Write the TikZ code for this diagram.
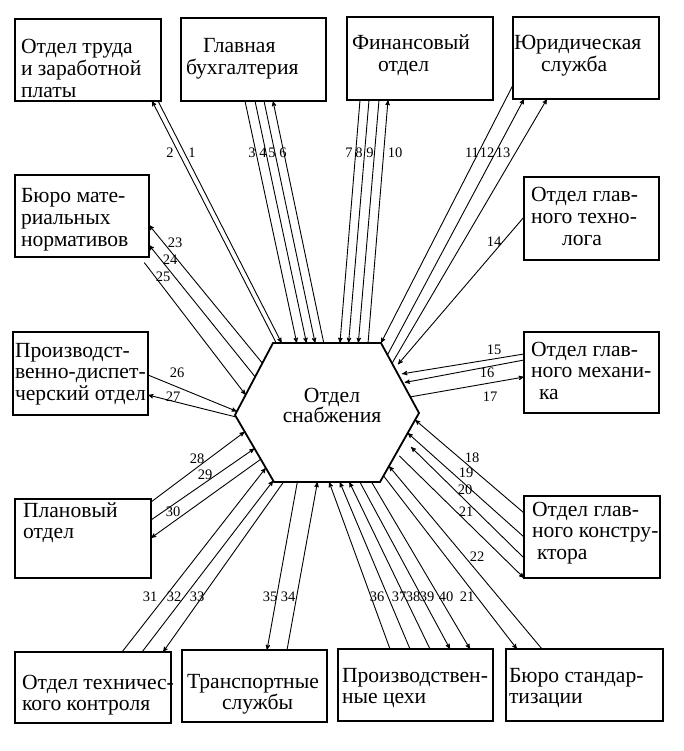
\documentclass[tikz,border=0pt]{standalone}
\usepackage{fontspec}
\setmainfont{Liberation Serif}
\usepackage{tikz}
\usetikzlibrary{arrows,calc}
\newcommand{\btxt}[3]{\makebox[#1pt][l]{\hspace*{#2pt}\begin{tabular}[t]{@{}l@{}}#3\end{tabular}}}

\begin{document}
\begin{tikzpicture}[x=1pt, y=-1pt, >=stealth', font=\fontsize{21.6}{21.6}\selectfont]
\tikzstyle{box}=[draw, line width=1.5pt, anchor=north west, inner sep=0pt, outer sep=0pt]
\tikzstyle{num}=[font=\fontsize{14.5}{14.5}\selectfont, inner sep=0pt]
\tikzstyle{con}=[->, line width=0.9pt]
\useasboundingbox (0,0) rectangle (684,751);

% supply department
\coordinate (hnw) at (273,343);
\coordinate (hne) at (381,343);
\coordinate (he)  at (419,413);
\coordinate (hse) at (380,482);
\coordinate (hsw) at (274,482);
\coordinate (hw)  at (235,415);
\draw[line width=1.8pt, line join=miter] (hnw) -- (hne) -- (he) -- (hse) -- (hsw) -- (hw) -- cycle;
\node[align=center, font=\fontsize{21.6}{20}\selectfont] (sup) at (332,405) {Отдел\\снабжения};

% departments
\node[box, text height=35pt, text depth=47pt] (trud) at (15,19) {\btxt{146}{6}{Отдел труда\\и заработной\\платы}};
\node[box, text height=35pt, text depth=48pt] (buh) at (181,18) {\btxt{145}{5}{\hspace*{17pt}Главная\\бухгалтерия}};
\node[box, text height=33pt, text depth=50pt] (fin) at (347,17) {\btxt{146}{5}{Финансовый\\\hspace*{26pt}отдел}};
\node[box, text height=33pt, text depth=49pt] (yur) at (513,17) {\btxt{146}{1}{Юридическая\\\hspace*{27pt}служба}};
\node[box, text height=25pt, text depth=58pt] (tech) at (524,177) {\btxt{135}{7}{Отдел глав-\\ного техно-\\\hspace*{31pt}лога}};
\node[box, text height=24pt, text depth=57pt] (mech) at (524,332) {\btxt{135}{7}{Отдел глав-\\ного механи-\\\hspace*{8pt}ка}};
\node[box, text height=20pt, text depth=62pt] (kon) at (524,496) {\btxt{136}{8}{Отдел глав-\\ного констру-\\\hspace*{5pt}ктора}};
\node[box, text height=33pt, text depth=39pt] (std) at (506,649) {\btxt{157}{3}{Бюро стандар-\\тизации}};
\node[box, text height=33pt, text depth=39pt] (cekh) at (338,649) {\btxt{155}{4}{Производствен-\\ные цехи}};
\node[box, text height=38pt, text depth=34pt] (trans) at (182,650) {\btxt{145}{5}{Транспортные\\\hspace*{35pt}службы}};
\node[box, text height=37pt, text depth=34pt] (otk) at (15,652) {\btxt{156}{7}{Отдел техничес-\\кого контроля}};
\node[box, text height=18pt, text depth=61pt] (plan) at (15,499) {\btxt{136}{8}{Плановый\\отдел}};
\node[box, text height=25pt, text depth=58pt] (pdo) at (13,332) {\btxt{135}{2}{Производст-\\венно-диспет-\\черский отдел}};
\node[box, text height=28pt, text depth=54pt] (bmn) at (15,175) {\btxt{134}{6}{Бюро мате-\\риальных\\нормативов}};

\path[con]
($(trud.south west)+(143,0)$) edge ($(hnw)!0.08!(hne)$)
($(hnw)!0.03!(hne)$) edge ($(trud.south west)+(137,0)$)
($(buh.south west)+(64,0)$) edge ($(hnw)!0.22!(hne)$)
($(buh.south west)+(74,0)$) edge ($(hnw)!0.31!(hne)$)
($(buh.south west)+(83,0)$) edge ($(hnw)!0.39!(hne)$)
($(hnw)!0.47!(hne)$) edge ($(buh.south west)+(92,0)$)
($(fin.south west)+(13,0)$) edge ($(hnw)!0.62!(hne)$)
($(fin.south west)+(22,0)$) edge ($(hnw)!0.70!(hne)$)
($(fin.south west)+(32,0)$) edge ($(hnw)!0.79!(hne)$)
($(hnw)!0.88!(hne)$) edge ($(fin.south west)+(41,0)$)
($(yur.south west)+(0,-14)$) edge (hne)
($(hne)!0.17!(he)$) edge ($(yur.south west)+(11,0)$)
($(hne)!0.29!(he)$) edge ($(yur.south west)+(34,0)$)
($(tech.north west)+(0,40)$) edge[shorten >=5pt] ($(hne)!0.36!(he)$)
($(mech.north west)+(0,22)$) edge[shorten >=4pt] ($(hne)!0.45!(he)$)
($(mech.north west)+(0,28)$) edge[shorten >=2pt] ($(hne)!0.57!(he)$)
($(hne)!0.77!(he)$) edge ($(mech.north west)+(0,45)$)
($(kon.north west)+(0,17)$) edge ($(he)!0.10!(hse)$)
($(kon.north west)+(0,41)$) edge ($(he)!0.29!(hse)$)
($(kon.north west)+(0,62)$) edge[shorten >=10pt] ($(he)!0.39!(hse)$)
($(he)!0.58!(hse)$) edge[shorten <=4pt] (kon.south west)
($(std.north west)+(36,0)$) edge ($(he)!0.77!(hse)$)
($(he)!0.91!(hse)$) edge ($(std.north west)+(11,0)$)
($(cekh.north west)+(52,0)$) edge ($(hsw)!0.52!(hse)$)
($(cekh.north west)+(72,0)$) edge ($(hsw)!0.62!(hse)$)
($(cekh.north west)+(92,0)$) edge ($(hsw)!0.71!(hse)$)
($(hsw)!0.81!(hse)$) edge ($(cekh.north west)+(112,0)$)
($(hsw)!0.92!(hse)$) edge ($(cekh.north west)+(132,0)$)
($(trans.north west)+(105,0)$) edge ($(hsw)!0.41!(hse)$)
($(hsw)!0.22!(hse)$) edge ($(trans.north west)+(85,0)$)
($(otk.north west)+(107,0)$) edge ($(hw)!0.79!(hsw)$)
($(otk.north west)+(127,0)$) edge ($(hw)!0.98!(hsw)$)
($(hsw)!0.09!(hse)$) edge ($(otk.north west)+(148,0)$)
($(plan.north east)+(0,3)$) edge ($(hw)!0.25!(hsw)$)
($(plan.north east)+(0,21)$) edge ($(hw)!0.50!(hsw)$)
($(hw)!0.66!(hsw)$) edge ($(plan.north east)+(0,39)$)
($(pdo.north east)+(0,43)$) edge ($(hnw)!0.95!(hw)$)
($(hw)!0.03!(hsw)$) edge ($(pdo.north east)+(0,63)$)
($(hnw)!0.28!(hw)$) edge ($(bmn.north east)+(0,50)$)
($(hnw)!0.47!(hw)$) edge ($(bmn.north east)+(0,70)$)
($(bmn.south east)+(-9,0)$) edge[shorten <=7pt] ($(hnw)!0.72!(hw)$)
;

% numbers of the links
\foreach \t/\x/\y [count=\i] in {2/170/153, 1/192/153, 3/252/153, 4/263/153, 5/272/153, 6/283/153,
  7/349/153, 8/359/153, 9/370/153, 10/395/153, 11/472/153, 12/487/153, 13/503/153,
  14/494/242, 15/494/350, 16/487/373, 17/490/397,
  18/472/458, 19/466/473, 20/465/490, 21/466/512, 22/477/557,
  23/175/243, 24/170/260, 25/163/277, 26/177/373, 27/173/397,
  28/197/459, 29/205/475, 30/173/512,
  31/150/597, 32/174/597, 33/197/597, 35/270/597, 34/288/597,
  36/377/597, 37/399/597, 38/413/597, 39/427/597, 40/446/597, 21/467/597}
  \node[num] (n\i) at (\x,\y) {\t};
\end{tikzpicture}
\end{document}
